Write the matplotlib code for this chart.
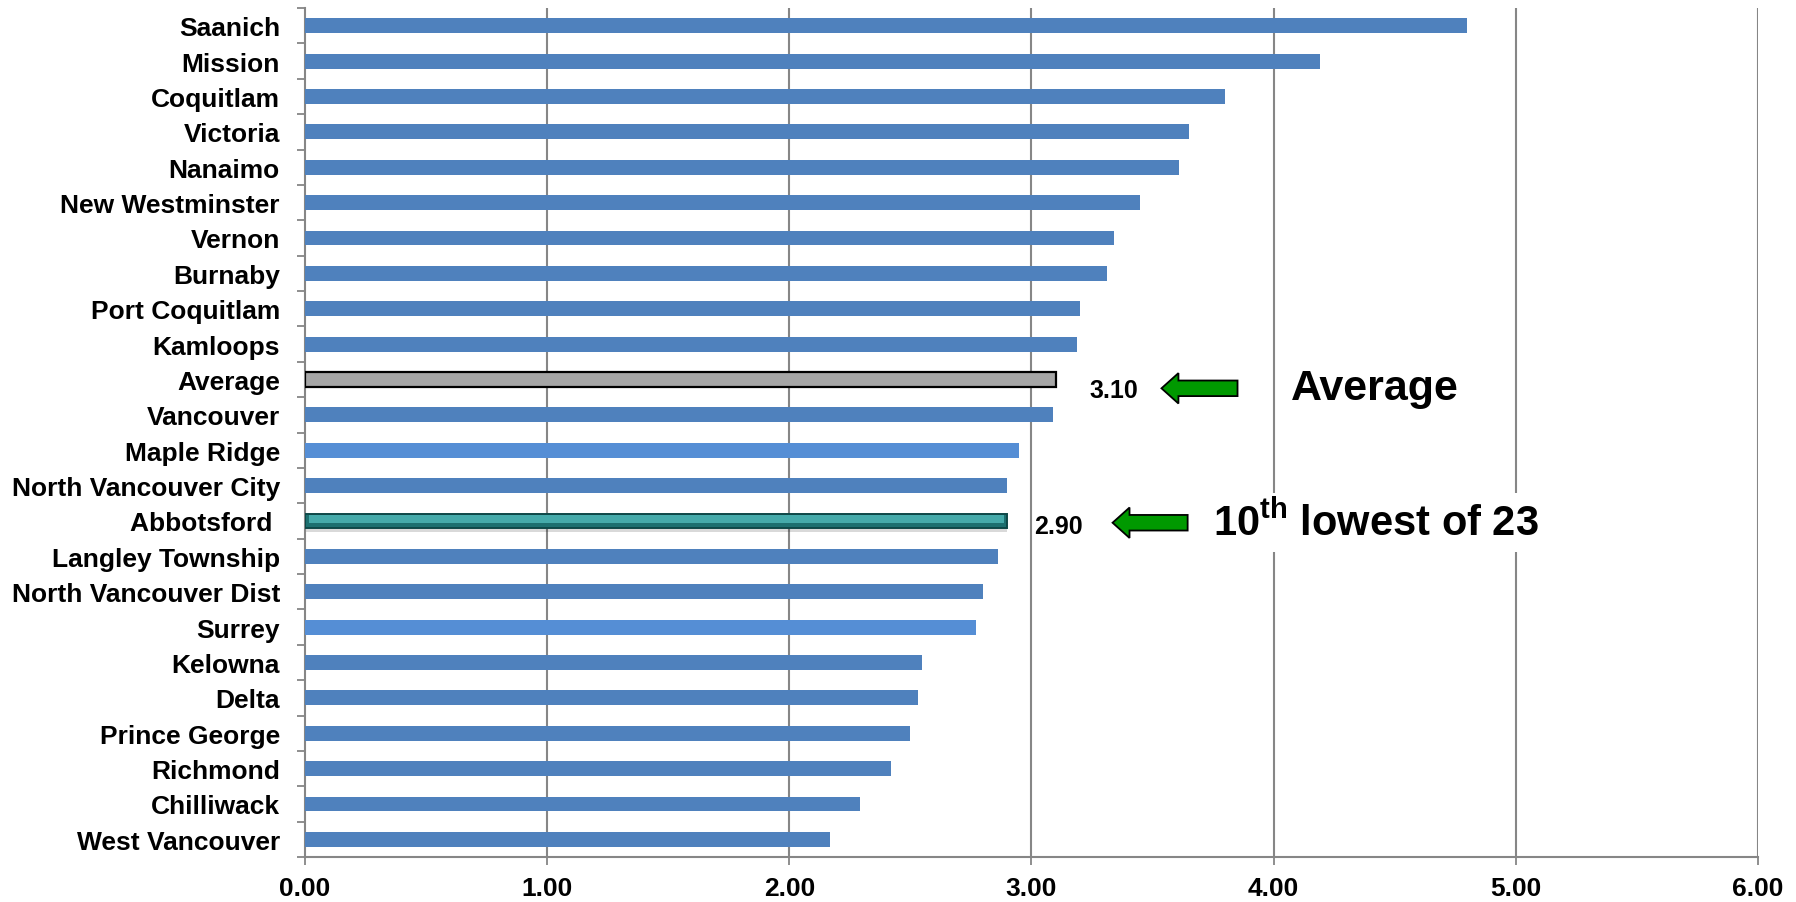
import numpy as np
import matplotlib
matplotlib.use('Agg')
import matplotlib.pyplot as plt
from matplotlib.patches import FancyArrow
from matplotlib.ticker import FixedLocator

plt.rcParams['font.family'] = ['Liberation Sans', 'DejaVu Sans']
plt.rcParams['mathtext.fontset'] = 'custom'
plt.rcParams['mathtext.rm'] = 'Liberation Sans:bold'
plt.rcParams['mathtext.bf'] = 'Liberation Sans:bold'

# data, top to bottom
cities = ['Saanich', 'Mission', 'Coquitlam', 'Victoria', 'Nanaimo', 'New Westminster',
          'Vernon', 'Burnaby', 'Port Coquitlam', 'Kamloops', 'Average', 'Vancouver',
          'Maple Ridge', 'North Vancouver City', 'Abbotsford ', 'Langley Township',
          'North Vancouver Dist', 'Surrey', 'Kelowna', 'Delta', 'Prince George',
          'Richmond', 'Chilliwack', 'West Vancouver']
values = [4.80, 4.19, 3.80, 3.65, 3.61, 3.45, 3.34, 3.31, 3.20, 3.19, 3.10, 3.09,
          2.95, 2.90, 2.90, 2.86, 2.80, 2.77, 2.55, 2.53, 2.50, 2.42, 2.29, 2.17]
avg_label = '3.10'
abb_label = '2.90'

blue = '#4F81BD'
light_blue = '#558ED5'
grid_col = '#868686'

fig = plt.figure(figsize=(17.96, 9.03), dpi=100)
ax = fig.add_axes([0.1698, 0.0498, 0.8090, 0.9402])

y = np.arange(len(cities))
colors = []
for c in cities:
    if c in ('Maple Ridge', 'Surrey'):
        colors.append(light_blue)
    else:
        colors.append(blue)

h = 0.42
i_avg = cities.index('Average')
i_abb = cities.index('Abbotsford ')
normal = [i for i in y if i not in (i_avg, i_abb)]

ax.barh(y[normal], [values[i] for i in normal], height=h,
        color=[colors[i] for i in normal], zorder=3)

# average bar
ax.barh(i_avg, values[i_avg], height=h, color='#A6A6A6', edgecolor='black',
        linewidth=1.6, zorder=3)

# Abbotsford bar: shadow, bevelled teal
ax.barh(i_abb + 0.10, values[i_abb], height=h, color='#000000', alpha=0.15,
        linewidth=0, zorder=2)
ax.barh(i_abb, values[i_abb], height=h, color='#1C6F6F', edgecolor='#0E4848',
        linewidth=1.4, zorder=3)
ax.barh(i_abb - h * 0.12, values[i_abb] - 0.03, height=h * 0.55, left=0.015,
        color='#45AAAA', linewidth=0, zorder=4)

ax.set_xlim(0, 6)
ax.set_ylim(len(cities) - 0.5, -0.5)

# grid and axes
ax.set_xticks(np.arange(0, 7))
ax.set_xticklabels(['%.2f' % v for v in np.arange(0, 7)], fontsize=19, fontweight='bold')
for xv in range(1, 7):
    ax.axvline(xv, color=grid_col, linewidth=1.5, zorder=1)

ax.set_yticks(y)
ax.set_yticklabels(cities, fontsize=19, fontweight='bold')
ax.yaxis.set_minor_locator(FixedLocator(np.arange(-0.5, len(cities) + 0.5, 1)))
ax.tick_params(axis='y', which='major', length=0, pad=18)
ax.tick_params(axis='y', which='minor', length=6, width=1.3, color=grid_col, direction='out')
ax.tick_params(axis='x', which='major', length=6, width=1.3, color=grid_col, direction='out', pad=8)

for s in ('top', 'right'):
    ax.spines[s].set_visible(False)
for s in ('left', 'bottom'):
    ax.spines[s].set_color(grid_col)
    ax.spines[s].set_linewidth(1.5)

# annotations
green = '#009900'
ax.text(3.34, i_avg + 0.30, avg_label, fontsize=18, fontweight='bold',
        ha='center', va='center', zorder=5)
ax.add_patch(FancyArrow(3.851, i_avg + 0.25, -0.314, 0, width=0.44, head_width=0.86,
                        head_length=0.07, length_includes_head=True,
                        facecolor=green, edgecolor='black', linewidth=1.3, zorder=5))
ax.text(4.07, i_avg + 0.25, 'Average', fontsize=31, fontweight='bold',
        ha='left', va='center', zorder=5)

ax.text(3.11, i_abb + 0.14, abb_label, fontsize=18, fontweight='bold',
        ha='center', va='center', zorder=5)
ax.add_patch(FancyArrow(3.645, i_abb + 0.05, -0.31, 0, width=0.44, head_width=0.86,
                        head_length=0.07, length_includes_head=True,
                        facecolor=green, edgecolor='black', linewidth=1.3, zorder=5))
ax.text(3.75, i_abb + 0.05, r'10$^{\mathbf{th}}$ lowest of 23', fontsize=30,
        fontweight='bold', ha='left', va='center', zorder=5,
        bbox=dict(facecolor='white', edgecolor='none', pad=6))

fig.savefig('out.png', dpi=100)
